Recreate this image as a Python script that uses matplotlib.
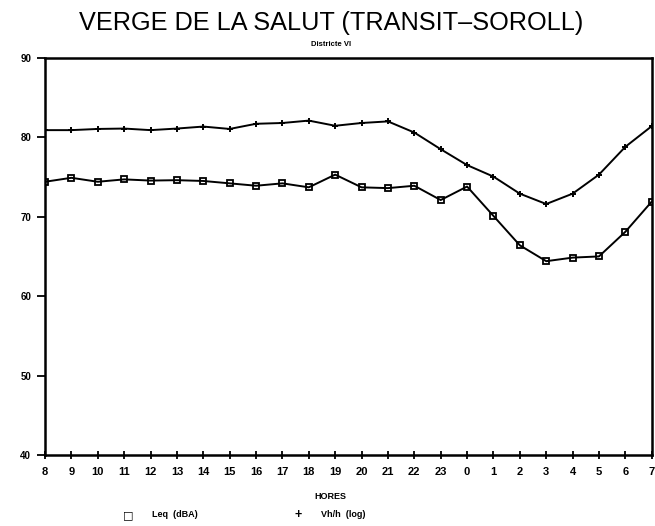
import matplotlib
matplotlib.use("Agg")
import matplotlib.pyplot as plt

# hours of the day, starting at 8h
hours = ["8", "9", "10", "11", "12", "13", "14", "15", "16", "17", "18", "19",
         "20", "21", "22", "23", "0", "1", "2", "3", "4", "5", "6", "7"]

# Leq (dBA)
leq = [74.4, 74.9, 74.4, 74.7, 74.55, 74.6, 74.5, 74.2, 73.9, 74.2, 73.7, 75.3,
       73.7, 73.6, 73.9, 72.1, 73.8, 70.1, 66.4, 64.4, 64.85, 65.0, 68.1, 71.9]

# Vh/h (log)
vhh = [80.9, 80.9, 81.05, 81.1, 80.9, 81.1, 81.35, 81.05, 81.7, 81.8, 82.1, 81.45,
       81.8, 82.0, 80.6, 78.5, 76.5, 75.05, 72.9, 71.6, 72.9, 75.3, 78.8, 81.4]

yticks = [40, 50, 60, 70, 80, 90]

plt.rcParams["font.family"] = ["Liberation Sans", "DejaVu Sans"]

fig = plt.figure(figsize=(6.55, 5.26), dpi=100)
ax = fig.add_axes([0.0687, 0.135, 0.9263, 0.755])

x = list(range(len(hours)))
ax.plot(x, vhh, color="black", lw=1.4, marker="+", ms=5, mew=1.4)
ax.plot(x, leq, color="black", lw=1.4, marker="s", ms=5, mfc="none", mew=1.3)

ax.set_xlim(0, len(hours) - 1)
ax.set_ylim(40, 90)
ax.set_xticks(x)
ax.set_xticklabels(hours, fontsize=8, fontweight="bold")
ax.set_yticks(yticks)
ax.set_yticklabels([str(v) for v in yticks], fontsize=7, fontweight="bold")
ax.tick_params(axis="y", direction="out", length=6, width=1.3, pad=4)
ax.tick_params(axis="x", direction="inout", length=6, width=1.3, pad=6)
for s in ax.spines.values():
    s.set_linewidth(1.8)

fig.text(0.505, 0.957, "VERGE DE LA SALUT (TRANSIT\u2013SOROLL)", ha="center", va="center",
         fontsize=18.2)
fig.text(0.505, 0.915, "Districte VI", ha="center", va="center", fontsize=5.5,
         fontweight="bold")
fig.text(0.505, 0.057, "HORES", ha="center", va="center", fontsize=6.5, fontweight="bold")

# legend drawn as text at the bottom
fig.text(0.196, 0.021, "\u25a1", ha="center", va="center", fontsize=8, fontweight="bold",
         family="DejaVu Sans")
fig.text(0.232, 0.021, "Leq  (dBA)", ha="left", va="center", fontsize=6.5, fontweight="bold")
fig.text(0.455, 0.021, "+", ha="center", va="center", fontsize=9, fontweight="bold")
fig.text(0.49, 0.021, "Vh/h  (log)", ha="left", va="center", fontsize=6.5, fontweight="bold")

fig.savefig("out.png", dpi=100)
